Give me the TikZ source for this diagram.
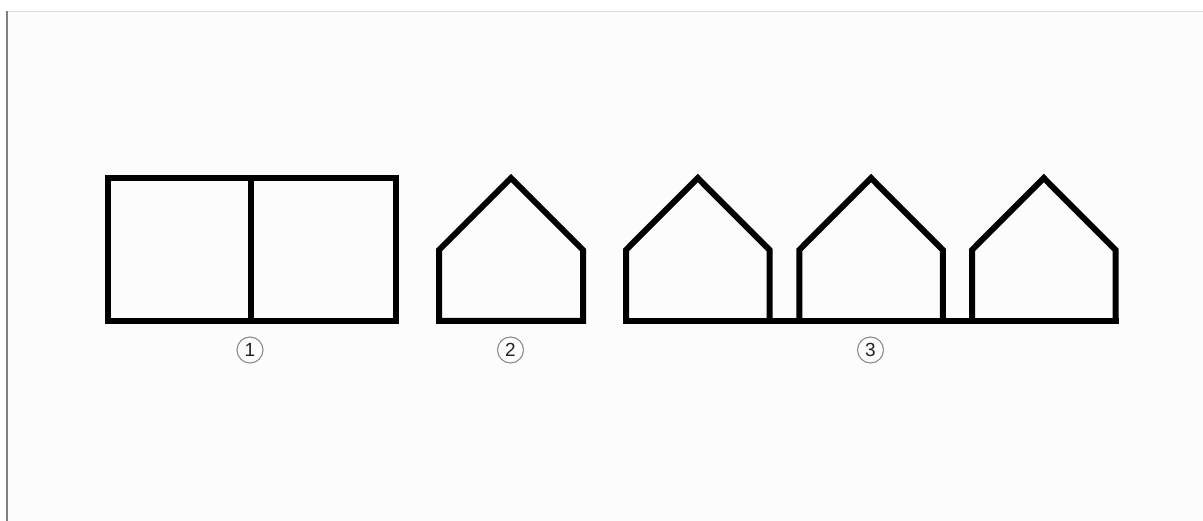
\documentclass[tikz,border=0pt]{standalone}
\usepackage{fontspec}
\setmainfont{Liberation Sans}
\definecolor{bgfill}{HTML}{FCFCFC}
\definecolor{topline}{HTML}{DDDDDD}
\definecolor{leftline}{HTML}{808080}
\definecolor{ringcol}{HTML}{8C8C8C}
\definecolor{numcol}{HTML}{222222}
\begin{document}
\begin{tikzpicture}[x=1pt,y=-1pt,
  outline/.style={line width=6pt, line join=miter, draw=black},
  numlabel/.style={circle, draw=ringcol, line width=1.1pt, minimum size=26pt, inner sep=0pt,
    text=numcol, font=\fontsize{19}{19}\selectfont}]
  \useasboundingbox (0,0) rectangle (1203,521);
  % background
  \fill[white] (0,0) rectangle (1203,521);
  \fill[bgfill] (7,11.5) rectangle (1203,521);
  \draw[topline, line width=1.2pt] (6,11.5) -- (1203,11.5);
  \draw[leftline, line width=2pt] (7,11) -- (7,521);
  % figure 1: rectangle split in two
  \draw[outline] (108,178) rectangle (395.5,321);
  \draw[outline] (251,178) -- (251,321);
  % figure 2: single house
  \draw[outline] (439,321) -- (439,250) -- (511,178) -- (583,250) -- (583,321) -- cycle;
  % figure 3: three houses on a common base
  \foreach \c in {697.75, 871, 1043.75} {
    \draw[outline, line cap=butt] (\c-71.75,321) -- (\c-71.75,250) -- (\c,178) -- (\c+71.75,250) -- (\c+71.75,321);
  }
  \draw[outline, line cap=rect] (626,321) -- (1115.5,321);
  % labels
  \node[numlabel] (n1) at (250,350) {1};
  \node[numlabel] (n2) at (510.5,350) {2};
  \node[numlabel] (n3) at (870.5,350) {3};
\end{tikzpicture}
\end{document}
